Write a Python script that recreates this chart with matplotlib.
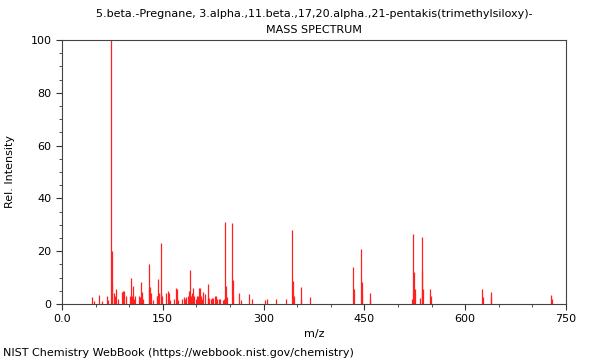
import numpy as np
import matplotlib
matplotlib.use('Agg')
import matplotlib.pyplot as plt
from matplotlib.ticker import MultipleLocator, FixedLocator, FixedFormatter

# Peak list (m/z, relative intensity)
mz = [45, 47, 55, 59, 67, 69, 73, 74, 75, 77, 79, 81, 83, 89, 91, 93, 95,
      101, 103, 104, 105, 107, 109, 115, 116, 117, 119, 121, 129, 130, 131,
      133, 135, 141, 142, 143, 145, 147, 148, 149, 155, 157, 159, 161, 167,
      169, 171, 173, 179, 181, 183, 185, 187, 189, 191, 192, 193, 195, 197,
      199, 201, 203, 204, 205, 207, 209, 210, 213, 217, 218, 219, 221, 223,
      225, 227, 229, 231, 233, 235, 239, 241, 243, 244, 245, 253, 254, 255,
      264, 266, 279, 282, 302, 305, 319, 333, 343, 344, 345, 355, 356, 369,
      433, 434, 445, 446, 447, 458, 459, 521, 523, 524, 525, 533, 535, 536,
      537, 548, 549, 625, 626, 638, 639, 728, 729]
intensity = [2.5, 1.2, 3.5, 1, 3, 1.5, 100, 7.5, 20, 4, 3, 5.5, 2, 4.5, 5, 5, 3,
             3, 10, 3, 7, 2, 3, 3, 2.5, 8.5, 4.5, 2, 15, 6, 6.5,
             4, 1.5, 3, 3, 9.5, 4, 23, 4, 3, 4, 5, 4, 1.5, 2,
             6, 5.5, 1.5, 2, 2.5, 2, 2.5, 3, 5, 13, 3, 4, 6, 3,
             2, 3, 3, 6, 6, 3, 2, 4.4, 3.7, 7.5, 2, 2.4, 2, 2.4,
             2.4, 3, 3, 2, 1.8, 1.8, 1.5, 2, 31, 7, 2.5, 30.5, 9, 2.5,
             4, 1.5, 3.8, 1.8, 1.5, 2, 2, 2, 28, 8.7, 3, 6.3, 2, 2.5,
             14, 5.7, 21, 8.4, 3.8, 4, 1.8, 1.8, 26.5, 12, 5.5, 2.2, 25.3, 12.6,
             5.8, 5.7, 3, 5.7, 2.8, 4.5, 2.5, 3.5, 2]

xticks = [0, 150, 300, 450, 600, 750]
xtick_labels = ['0.0', '150', '300', '450', '600', '750']
yticks = [0, 20, 40, 60, 80, 100]

title_text = '5.beta.-Pregnane, 3.alpha.,11.beta.,17,20.alpha.,21-pentakis(trimethylsiloxy)-\nMASS SPECTRUM'

fig = plt.figure(figsize=(6, 3.6), dpi=100)
ax = fig.add_axes([62/600, 1 - 304/360, 504/600, 264/360])

ax.vlines(mz, 0, intensity, color='#ff2020', linewidth=0.9)

ax.set_xlim(0, 750)
ax.set_ylim(0, 100)
ax.xaxis.set_major_locator(FixedLocator(xticks))
ax.xaxis.set_major_formatter(FixedFormatter(xtick_labels))
ax.xaxis.set_minor_locator(MultipleLocator(50))
ax.yaxis.set_major_locator(FixedLocator(yticks))
ax.yaxis.set_minor_locator(MultipleLocator(5))

ax.tick_params(which='major', length=4, width=0.8, labelsize=8, color='#333333')
ax.tick_params(which='minor', length=2, width=0.6, color='#333333')
for s in ax.spines.values():
    s.set_color('#444444')
    s.set_linewidth(0.8)

ax.set_xlabel('m/z', fontsize=8, labelpad=3)
ax.set_ylabel('Rel. Intensity', fontsize=8, labelpad=11)
fig.text(314/600, 1 - 22/360, title_text, ha='center', va='center',
         fontsize=8, linespacing=1.85)
fig.text(3/600, 1 - 353/360, 'NIST Chemistry WebBook (https://webbook.nist.gov/chemistry)',
         ha='left', va='center', fontsize=8)

fig.savefig('out.png', dpi=100)
